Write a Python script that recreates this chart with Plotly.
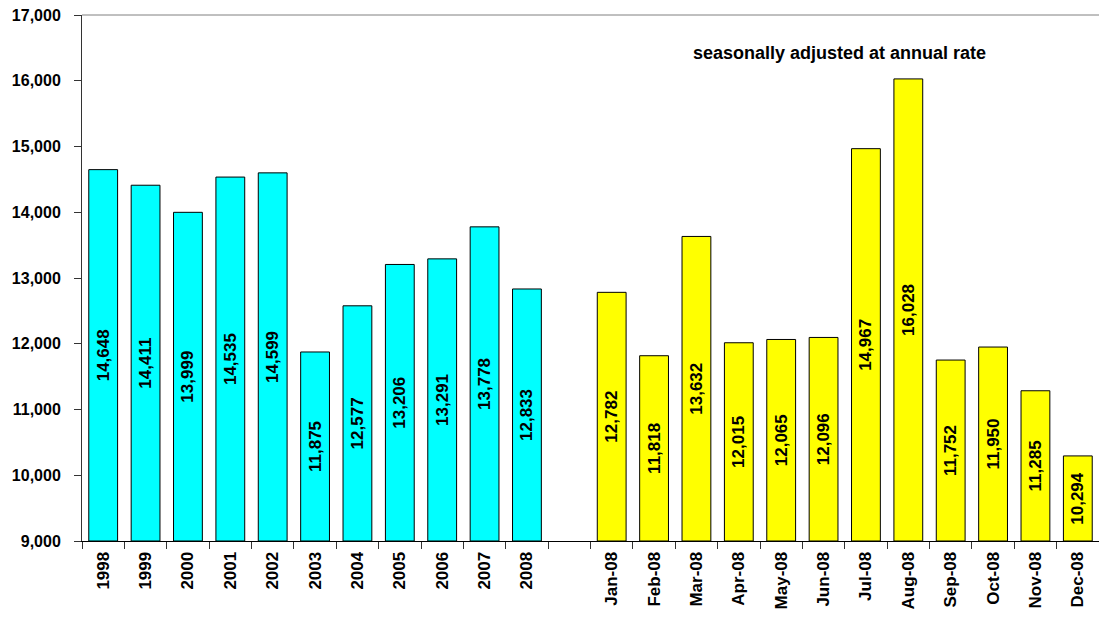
import plotly.graph_objects as go

years = ["1998", "1999", "2000", "2001", "2002", "2003", "2004", "2005", "2006", "2007", "2008"]
annual = [14648, 14411, 13999, 14535, 14599, 11875, 12577, 13206, 13291, 13778, 12833]
months = ["Jan-08", "Feb-08", "Mar-08", "Apr-08", "May-08", "Jun-08",
          "Jul-08", "Aug-08", "Sep-08", "Oct-08", "Nov-08", "Dec-08"]
monthly = [12782, 11818, 13632, 12015, 12065, 12096, 14967, 16028, 11752, 11950, 11285, 10294]
gap = [" "]
y_min, y_max = 9000, 17000

cats = years + gap + months
FONT = "Liberation Sans, Arial, sans-serif"


def bar(x, vals, color):
    return go.Bar(
        x=x, y=[v - y_min for v in vals], base=y_min, customdata=vals,
        marker=dict(color=color, line=dict(color="black", width=1)),
        texttemplate="<b>%{customdata:,}</b>", textposition="inside", textangle=-90,
        insidetextanchor="middle", textfont=dict(family=FONT, size=17, color="black"),
        hovertemplate="%{x}: %{customdata:,}<extra></extra>",
    )


fig = go.Figure()
fig.add_trace(bar(years, annual, "#00FFFF"))
fig.add_trace(bar(months, monthly, "#FFFF00"))

fig.update_layout(
    width=1099, height=617,
    margin=dict(l=82, r=0, t=15, b=76),
    paper_bgcolor="white", plot_bgcolor="white",
    barmode="overlay", bargap=0.32, showlegend=False,
    font=dict(family=FONT, color="black"),
    xaxis=dict(type="category", categoryorder="array", categoryarray=cats,
               tickson="boundaries", ticks="outside", ticklen=7, tickcolor="#333",
               showline=True, linecolor="black", linewidth=1, showgrid=False,
               ticklabelstandoff=3,
               tickangle=-90, tickfont=dict(family=FONT, size=17, color="black", weight="bold")),
    yaxis=dict(range=[y_min, y_max], dtick=1000, tickformat=",", ticks="outside",
               ticklen=7, tickcolor="#333", showline=True, linecolor="#333", linewidth=1,
               showgrid=False, zeroline=False, ticklabelstandoff=10,
               tickfont=dict(family=FONT, size=16, color="black", weight="bold")),
    shapes=[dict(type="line", xref="paper", yref="paper", x0=0, x1=1, y0=1, y1=1,
                 line=dict(color="#808080", width=1))],
    annotations=[dict(text="<b>seasonally adjusted at annual rate</b>", xref="paper", yref="paper",
                      x=0.745, y=0.927, showarrow=False, xanchor="center", yanchor="middle",
                      font=dict(family=FONT, size=18, color="black"))],
)

fig.write_html("out.html")
